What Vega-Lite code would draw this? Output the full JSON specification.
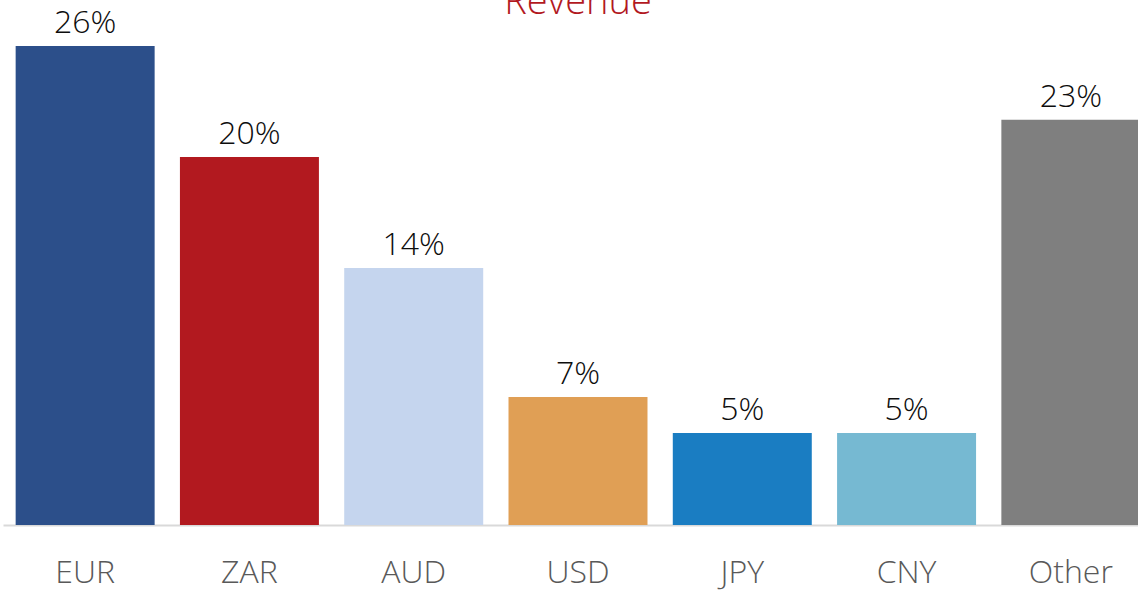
{
  "$schema": "https://vega.github.io/schema/vega-lite/v6.json",
  "autosize": {"type": "none"},
  "padding": {"left": 3, "top": 46, "right": 0, "bottom": 65},
  "width": 1150,
  "height": 479,
  "background": "white",
  "title": {"text": "Revenue", "color": "#b2191f", "font": "Open Sans", "fontSize": 38, "fontWeight": 300, "anchor": "middle", "frame": "group", "baseline": "alphabetic", "offset": -45},
  "config": {"view": {"stroke": null}, "font": "Open Sans"},
  "data": {"values": [
    {"currency": "EUR", "share": 26, "label": "26%", "color": "EUR"},
    {"currency": "ZAR", "share": 19.98, "label": "20%", "color": "ZAR"},
    {"currency": "AUD", "share": 13.95, "label": "14%", "color": "AUD"},
    {"currency": "USD", "share": 6.95, "label": "7%", "color": "USD"},
    {"currency": "JPY", "share": 5.0, "label": "5%", "color": "JPY"},
    {"currency": "CNY", "share": 5.0, "label": "5%", "color": "CNY"},
    {"currency": "Other", "share": 22.0, "label": "23%", "color": "Other"}
  ]},
  "encoding": {
    "x": {"field": "currency", "type": "nominal", "sort": null,
      "scale": {"paddingInner": 0.154, "paddingOuter": 0.077},
      "axis": {"title": null, "ticks": false, "grid": false, "domainColor": "#d9d9d9", "domainWidth": 2, "labelAngle": 0, "labelFont": "Open Sans", "labelFontSize": 32, "labelFontWeight": 300, "labelColor": "#595959", "labelPadding": 32}},
    "y": {"field": "share", "type": "quantitative", "scale": {"domain": [0, 26], "nice": false, "zero": true}, "axis": null}
  },
  "layer": [
    {"mark": {"type": "bar"},
     "encoding": {"color": {"field": "color", "type": "nominal", "legend": null,
       "scale": {"domain": ["EUR", "ZAR", "AUD", "USD", "JPY", "CNY", "Other"],
                 "range": ["#2c4f8a", "#b2191f", "#c5d5ee", "#e09f55", "#1a7dc2", "#76b9d2", "#7f7f7f"]}}}},
    {"mark": {"type": "text", "baseline": "alphabetic", "dy": -13, "font": "Open Sans", "fontSize": 32, "fontWeight": 300, "color": "#0d0d0d"},
     "encoding": {"text": {"field": "label"}}}
  ]
}
